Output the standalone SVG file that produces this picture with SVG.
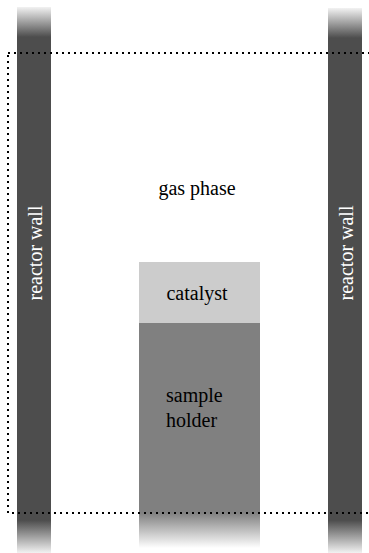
<svg xmlns="http://www.w3.org/2000/svg" width="369" height="553" viewBox="0 0 369 553">
<defs>
<linearGradient id="wallGrad" x1="0" y1="0" x2="0" y2="1">
<stop offset="0" stop-color="#f2f2f2"/>
<stop offset="0.055" stop-color="#4d4d4d"/>
<stop offset="0.94" stop-color="#4d4d4d"/>
<stop offset="1" stop-color="#f2f2f2"/>
</linearGradient>
<linearGradient id="holderGrad" x1="0" y1="0" x2="0" y2="1">
<stop offset="0" stop-color="#808080"/>
<stop offset="0.844" stop-color="#808080"/>
<stop offset="1" stop-color="#ffffff"/>
</linearGradient>
<style>
.lbl{font-family:"Liberation Serif","Times New Roman",serif;font-size:20px;fill:#000}
.wlbl{font-family:"Liberation Serif","Times New Roman",serif;font-size:20px;fill:#fff;text-anchor:middle}
</style>
</defs>
<g id="left-wall">
<rect x="17" y="7" width="34" height="546" fill="url(#wallGrad)"/>
<text class="wlbl" transform="translate(41.5,253) rotate(-90)">reactor wall</text>
</g>
<g id="right-wall">
<rect x="328" y="8" width="34" height="545" fill="url(#wallGrad)"/>
<text class="wlbl" transform="translate(352.5,253) rotate(-90)">reactor wall</text>
</g>
<g id="sample-holder">
<rect x="139" y="323" width="121" height="225" fill="url(#holderGrad)"/>
<text class="lbl" x="166" y="402">sample</text>
<text class="lbl" x="166" y="427">holder</text>
</g>
<g id="catalyst">
<rect x="139" y="262" width="121" height="61" fill="#cccccc"/>
<text class="lbl" x="197" y="300" text-anchor="middle">catalyst</text>
</g>
<g id="gas-phase">
<rect x="8" y="53" width="364" height="460" fill="none" stroke="#000" stroke-width="2" stroke-dasharray="2 4"/>
<text class="lbl" x="197" y="195" text-anchor="middle">gas phase</text>
</g>
</svg>
